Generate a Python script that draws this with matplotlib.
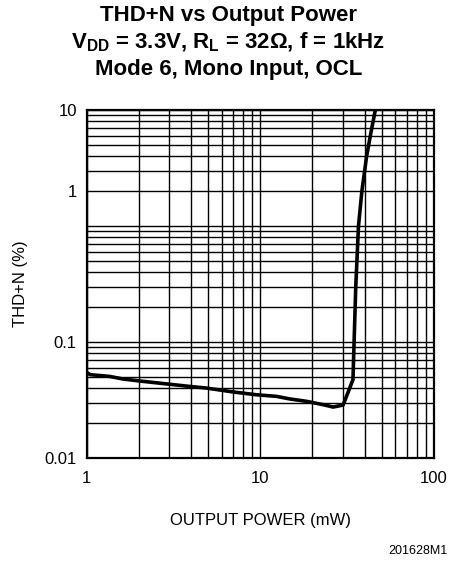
import matplotlib
matplotlib.use("Agg")
import matplotlib.pyplot as plt
from matplotlib.ticker import NullFormatter

plt.rcParams['font.family'] = ['Liberation Sans', 'DejaVu Sans']
plt.rcParams['mathtext.fontset'] = 'custom'
plt.rcParams['mathtext.rm'] = 'Liberation Sans:bold'
plt.rcParams['mathtext.bf'] = 'Liberation Sans:bold'

# ==============================
# DATA
# ==============================
power_mw = [1.0, 1.05, 1.36, 1.62, 2.03, 3.93, 4.9, 6.98, 9.5, 12.4, 14.8,
            18.5, 23.1, 26.3, 30.0, 34.2, 35.5, 36.8, 38.5, 41.0, 43.5, 46.0]
thdn_pct = [0.0547, 0.0523, 0.0505, 0.048, 0.0461, 0.0414, 0.0401, 0.0371,
            0.0351, 0.034, 0.0323, 0.0308, 0.0288, 0.0275, 0.0286, 0.0473,
            0.3, 1.0, 2.0, 4.0, 6.5, 10.0]

x_ticks = [1, 10, 100]
x_labels = ['1', '10', '100']
# the reference prints "1" on the 2 gridline
y_ticks = [0.01, 0.1, 2, 10]
y_labels = ['0.01', '0.1', '1', '10']

title_lines = ["THD+N vs Output Power",
               r"V$_{\mathrm{DD}}$ = 3.3V, R$_{\mathrm{L}}$ = 32Ω, f = 1kHz",
               "Mode 6, Mono Input, OCL"]

# ==============================
# PLOT
# ==============================
fig = plt.figure(figsize=(4.51, 5.63), dpi=100)
ax = fig.add_axes([0.192, 0.1865, 0.770, 0.618])

ax.set_xscale('log')
ax.set_yscale('log')
ax.set_xlim(1, 100)
ax.set_ylim(0.01, 10)

ax.plot(power_mw, thdn_pct, color='black', lw=2.6, solid_joinstyle='round', zorder=3)

ax.set_xticks(x_ticks)
ax.set_xticklabels(x_labels)
ax.set_yticks(y_ticks)
ax.set_yticklabels(y_labels)
ax.set_xticks([m * 10 ** e for e in (0, 1) for m in range(2, 10)], minor=True)
ax.set_yticks([m * 10 ** e for e in (-2, -1, 0) for m in range(1, 10)], minor=True)
ax.xaxis.set_minor_formatter(NullFormatter())
ax.yaxis.set_minor_formatter(NullFormatter())

ax.grid(True, which='both', color='black', lw=1.0)
ax.tick_params(which='both', length=0, labelsize=12)
ax.tick_params(axis='x', pad=9)
ax.tick_params(axis='y', pad=7)
for s in ax.spines.values():
    s.set_linewidth(1.6)

ax.set_xlabel("OUTPUT POWER (mW)", fontsize=12, labelpad=20)
ax.set_ylabel("THD+N (%)", fontsize=12, labelpad=12)

for i, line in enumerate(title_lines):
    fig.text(0.506, 0.972 - i * 0.048, line, ha='center', va='center',
             fontsize=16, fontweight='bold')

fig.text(0.993, 0.01, "201628M1", ha='right', va='bottom', fontsize=9)

fig.savefig("out.png", dpi=100)
